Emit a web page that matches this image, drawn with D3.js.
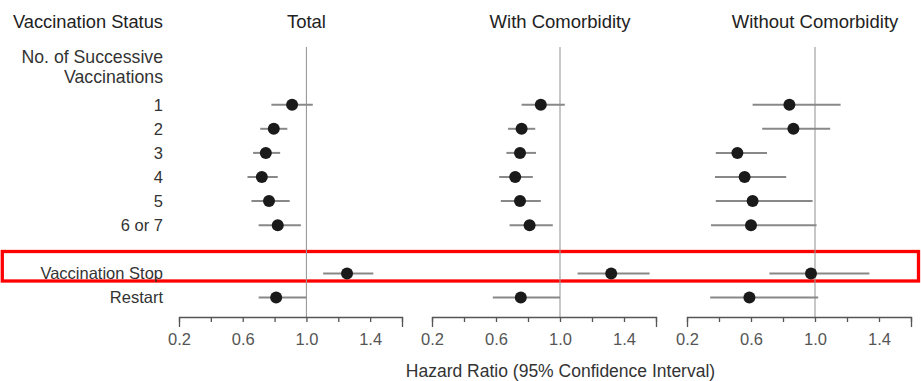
<!DOCTYPE html>
<html>
<head>
<meta charset="utf-8">
<script src="https://cdn.jsdelivr.net/npm/d3@7"></script>
<style>
  html, body { margin: 0; padding: 0; background: #fff; }
  svg { display: block; font-family: "Liberation Sans", Arial, Helvetica, sans-serif; }
</style>
</head>
<body>
<svg id="chart" width="921" height="381"></svg>
<script>
// ---- Data ----
const rows = ["1", "2", "3", "4", "5", "6 or 7", "Vaccination Stop", "Restart"];
const panels = ["Total", "With Comorbidity", "Without Comorbidity"];

const totalHR = [0.91, 0.795, 0.745, 0.72, 0.765, 0.82, 1.255, 0.81];
const totalLo = [0.78, 0.71, 0.665, 0.63, 0.655, 0.70, 1.105, 0.70];
const totalHi = [1.04, 0.88, 0.835, 0.82, 0.895, 0.965, 1.42, 1.00];

const withHR = [0.88, 0.76, 0.75, 0.72, 0.75, 0.81, 1.32, 0.755];
const withLo = [0.76, 0.675, 0.665, 0.62, 0.63, 0.685, 1.11, 0.58];
const withHi = [1.03, 0.845, 0.85, 0.83, 0.88, 0.955, 1.56, 1.00];

const withoutHR = [0.84, 0.865, 0.515, 0.56, 0.61, 0.60, 0.975, 0.59];
const withoutLo = [0.61, 0.67, 0.38, 0.375, 0.38, 0.35, 0.715, 0.345];
const withoutHi = [1.16, 1.095, 0.70, 0.82, 0.985, 1.01, 1.34, 1.02];

const tickValues = [0.2, 0.4, 0.6, 0.8, 1.0, 1.2, 1.4, 1.6];
const tickLabels = ["0.2", "0.6", "1.0", "1.4"];

const headerLabel = "Vaccination Status";
const groupLabel = ["No. of Successive", "Vaccinations"];
const axisTitle = "Hazard Ratio (95% Confidence Interval)";

// ---- Layout ----
const svg = d3.select("#chart");
const series = [
  { title: panels[0], hr: totalHR, lo: totalLo, hi: totalHi, range: [179, 402] },
  { title: panels[1], hr: withHR, lo: withLo, hi: withHi, range: [432, 656] },
  { title: panels[2], hr: withoutHR, lo: withoutLo, hi: withoutHi, range: [687, 911] }
];

const y = d3.scalePoint()
  .domain(["1", "2", "3", "4", "5", "6 or 7", "__gap", "Vaccination Stop", "Restart"])
  .range([104.7, 297.5]);

const axisY = 317;
const labelX = 163;
const textColor = "#333";

// Red highlight box
svg.append("rect")
  .attr("x", 2.3).attr("y", 251.5)
  .attr("width", 916.2).attr("height", 29.5)
  .attr("fill", "none").attr("stroke", "#f00").attr("stroke-width", 3.3);

// Left labels
svg.append("text").attr("x", labelX).attr("y", 28)
  .attr("text-anchor", "end").attr("font-size", 18.3).attr("fill", "#222")
  .text(headerLabel);
svg.append("text").attr("x", labelX).attr("y", 63)
  .attr("text-anchor", "end").attr("font-size", 17.7).attr("fill", textColor)
  .text(groupLabel[0]);
svg.append("text").attr("x", labelX).attr("y", 83)
  .attr("text-anchor", "end").attr("font-size", 17.7).attr("fill", textColor)
  .text(groupLabel[1]);

svg.append("g").selectAll("text").data(rows).join("text")
  .attr("x", labelX)
  .attr("y", d => y(d))
  .attr("dy", "0.36em")
  .attr("text-anchor", "end")
  .attr("font-size", 16.5)
  .attr("fill", textColor)
  .text(d => d);

// Panels
series.forEach(s => {
  const x = d3.scaleLinear().domain([0.2, 1.6]).range(s.range);
  const g = svg.append("g");

  // Title
  g.append("text").attr("x", x(1.0)).attr("y", 28)
    .attr("text-anchor", "middle").attr("font-size", 18.5).attr("fill", "#222")
    .text(s.title);

  // Reference line
  g.append("line")
    .attr("x1", x(1.0)).attr("x2", x(1.0))
    .attr("y1", 47).attr("y2", axisY)
    .attr("stroke", "#999").attr("stroke-width", 1.1);

  // Axis
  const axis = d3.axisBottom(x)
    .tickValues(tickValues)
    .tickSizeInner(5)
    .tickSizeOuter(10)
    .tickPadding(11)
    .tickFormat(d => {
      const t = d3.format(".1f")(d);
      return tickLabels.includes(t) ? t : "";
    });
  const ag = g.append("g").attr("transform", `translate(0,${axisY})`).call(axis);
  ag.select(".domain").attr("stroke", "#555").attr("stroke-width", 1.3);
  ag.selectAll(".tick line").attr("stroke", "#555").attr("stroke-width", 1.3);
  ag.selectAll(".tick text")
    .attr("font-size", 16.5)
    .attr("font-family", "'Liberation Sans', Arial, sans-serif")
    .attr("fill", "#555");

  // CI lines
  g.append("g").selectAll("line").data(rows).join("line")
    .attr("x1", (d, i) => x(s.lo[i]))
    .attr("x2", (d, i) => x(s.hi[i]))
    .attr("y1", d => y(d))
    .attr("y2", d => y(d))
    .attr("stroke", "#888")
    .attr("stroke-width", 2);

  // Points
  g.append("g").selectAll("circle").data(rows).join("circle")
    .attr("cx", (d, i) => x(s.hr[i]))
    .attr("cy", d => y(d))
    .attr("r", 6)
    .attr("fill", "#1a1a1a");
});

// Axis title
svg.append("text")
  .attr("x", 560.5).attr("y", 377)
  .attr("text-anchor", "middle")
  .attr("font-size", 17.5)
  .attr("fill", textColor)
  .text(axisTitle);
</script>
</body>
</html>
